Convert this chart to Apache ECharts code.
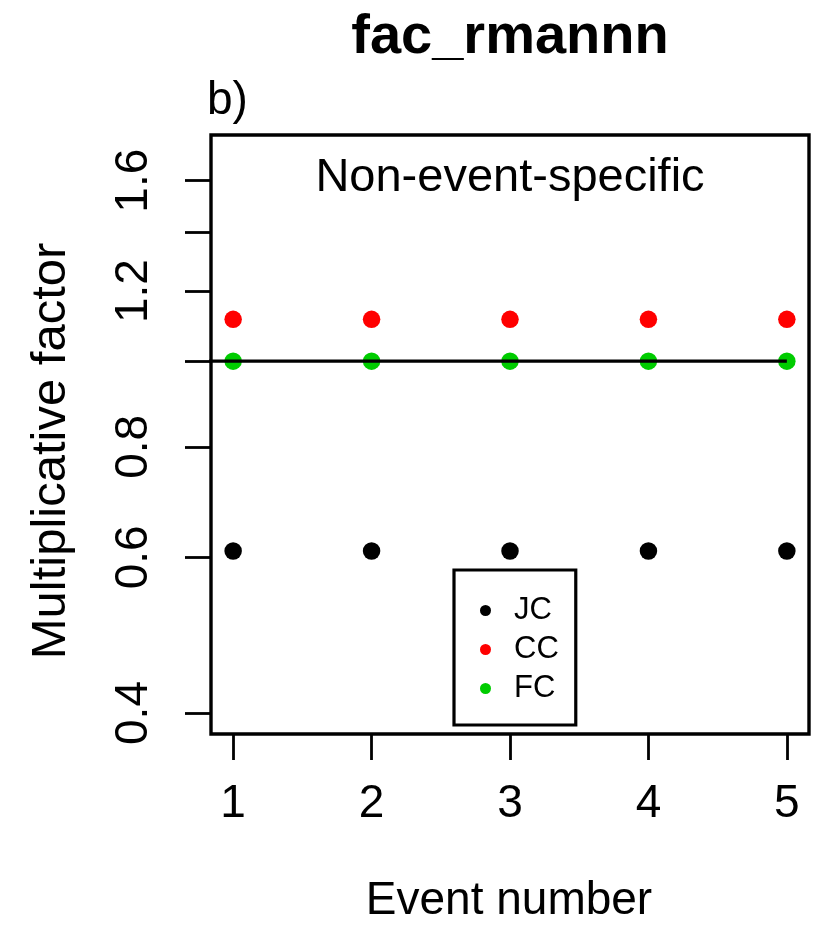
<!DOCTYPE html>
<html>
<head>
<meta charset="utf-8">
<title>fac_rmannn</title>
<script src="https://cdn.jsdelivr.net/npm/echarts@6/dist/echarts.min.js"></script>
<style>
  html, body { margin: 0; padding: 0; background: #fff; }
  #chart { width: 827px; height: 929px; }
</style>
</head>
<body>
<div id="chart"></div>
<script>
// Multiplicative factors per event, one series per model
const events = [1, 2, 3, 4, 5];
const jcValues = [0.61, 0.61, 0.61, 0.61, 0.61];
const ccValues = [1.115, 1.115, 1.115, 1.115, 1.115];
const fcValues = [1.0, 1.0, 1.0, 1.0, 1.0];

// Reference line at a factor of 1
const refLineX = [0, 5];
const refLineY = [1, 1];

// Axis ticks and labels
const xTicks = [1, 2, 3, 4, 5];
const yTicks = [0.4, 0.6, 0.8, 1.0, 1.2, 1.4, 1.6];
const yLabels = [0.4, 0.6, 0.8, 1.2, 1.6];

// Axis ranges (log scale on y)
const X_MIN = 0.84, X_MAX = 5.16;
const Y_MIN = 0.3787, Y_MAX = 1.802;

const FONT = "'Liberation Sans', Arial, Helvetica, sans-serif";
const pairs = (xs, ys) => xs.map((x, i) => [x, ys[i]]);

const chart = echarts.init(document.getElementById('chart'), null, { renderer: 'canvas' });

const dot = (name, values, color) => ({
  name: name,
  type: 'scatter',
  xAxisIndex: 0,
  yAxisIndex: 0,
  data: pairs(events, values),
  symbol: 'circle',
  symbolSize: 17.5,
  itemStyle: { color: color, opacity: 1 },
  z: 2,
  silent: true
});

chart.setOption({
  backgroundColor: '#ffffff',
  animation: false,
  textStyle: { fontFamily: FONT, color: '#000' },
  grid: {
    left: 211, top: 135, width: 598, height: 599,
    show: true, borderColor: '#000', borderWidth: 3.4, backgroundColor: 'transparent'
  },
  legend: {
    data: ['JC', 'CC', 'FC'],
    orient: 'vertical',
    left: 454, top: 570,
    padding: [25, 17, 21, 26],
    itemWidth: 47, itemHeight: 11, itemGap: 8,
    icon: 'circle',
    borderColor: '#000', borderWidth: 3.2,
    backgroundColor: '#fff',
    selectedMode: false,
    textStyle: { fontFamily: FONT, fontSize: 31, lineHeight: 31, color: '#000' }
  },
  xAxis: {
    type: 'value',
    min: X_MIN, max: X_MAX,
    axisLine: { show: false, onZero: false },
    splitLine: { show: false },
    axisTick: {
      show: true, customValues: xTicks, length: 26, inside: false,
      lineStyle: { color: '#000', width: 2.8 }
    },
    axisLabel: {
      show: true, customValues: xTicks, margin: 47,
      fontFamily: FONT, fontSize: 46, lineHeight: 46, color: '#000'
    }
  },
  yAxis: [
    {
      // data axis: logarithmic
      type: 'log', logBase: 10,
      min: Y_MIN, max: Y_MAX,
      position: 'left',
      axisLine: { show: false, onZero: false },
      axisTick: { show: false },
      axisLabel: { show: false },
      splitLine: { show: false }
    },
    {
      // tick/label axis on the same log range (log10 units)
      type: 'value',
      min: Math.log10(Y_MIN), max: Math.log10(Y_MAX),
      position: 'left',
      axisLine: { show: false, onZero: false },
      splitLine: { show: false },
      axisTick: {
        show: true, customValues: yTicks.map(Math.log10), length: 26,
        lineStyle: { color: '#000', width: 2.8 }
      },
      axisLabel: {
        show: true, customValues: yLabels.map(Math.log10),
        formatter: v => Math.pow(10, v).toFixed(1),
        rotate: 90, margin: 54,
        fontFamily: FONT, fontSize: 46, lineHeight: 46, color: '#000'
      }
    }
  ],
  series: [
    dot('JC', jcValues, '#000000'),
    dot('CC', ccValues, '#ff0000'),
    dot('FC', fcValues, '#00cc00'),
    {
      name: 'reference',
      type: 'line',
      xAxisIndex: 0,
      yAxisIndex: 0,
      data: pairs(refLineX, refLineY),
      symbol: 'none',
      clip: true,
      lineStyle: { color: '#000', width: 3.2 },
      z: 3,
      silent: true
    }
  ],
  graphic: [
    {
      type: 'text', x: 510, y: 38,
      style: { text: 'fac_rmannn', font: "bold 56px " + FONT, fill: '#000', align: 'center', verticalAlign: 'middle' }
    },
    {
      type: 'text', x: 207, y: 101,
      style: { text: 'b)', font: "46px " + FONT, fill: '#000', align: 'left', verticalAlign: 'middle' }
    },
    {
      type: 'text', x: 510, y: 178,
      style: { text: 'Non-event-specific', font: "47px " + FONT, fill: '#000', align: 'center', verticalAlign: 'middle' }
    },
    {
      type: 'text', x: 509, y: 901,
      style: { text: 'Event number', font: "46px " + FONT, fill: '#000', align: 'center', verticalAlign: 'middle' }
    },
    {
      type: 'text', x: 51, y: 451, rotation: Math.PI / 2,
      style: { text: 'Multiplicative factor', font: "49px " + FONT, fill: '#000', align: 'center', verticalAlign: 'middle' }
    }
  ]
});
</script>
</body>
</html>
